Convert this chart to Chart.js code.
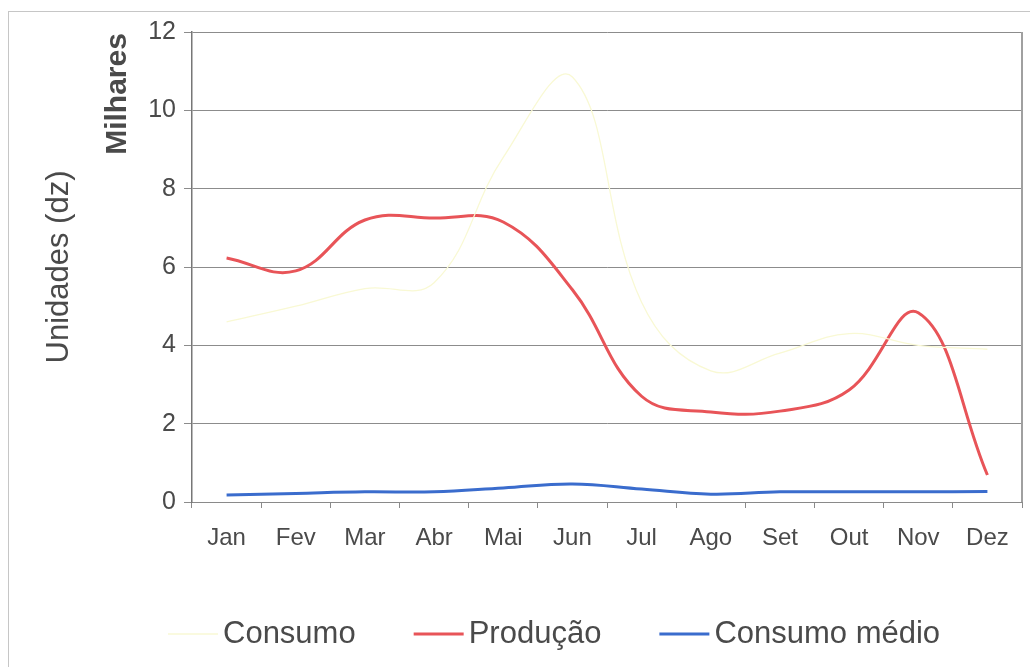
<!DOCTYPE html>
<html lang="pt">
<head>
<meta charset="UTF-8">
<title>Consumo e Produção</title>
<script src="https://cdn.jsdelivr.net/npm/chart.js"></script>
<style>
  * { margin: 0; padding: 0; box-sizing: border-box; }
  body {
    width: 1030px;
    height: 667px;
    overflow: hidden;
    position: relative;
    background: #fff;
  }
  /* moldura do gráfico */
  .moldura {
    position: absolute;
    left: 8px;
    top: 11px;
    width: 1100px;
    height: 700px;
    border: 1px solid #c6c6c6;
  }
  #area {
    position: absolute;
    left: 0;
    top: 0;
    width: 1030px;
    height: 667px;
  }
</style>
</head>
<body>
<div class="moldura"></div>
<div id="area"><canvas id="grafico"></canvas></div>

<script>
  const meses = ['Jan', 'Fev', 'Mar', 'Abr', 'Mai', 'Jun', 'Jul', 'Ago', 'Set', 'Out', 'Nov', 'Dez'];
  // valores em milhares de dúzias
  const consumo = [4.6, 5.0, 5.45, 5.6, 8.8, 10.85, 5.1, 3.35, 3.8, 4.3, 4.0, 3.9];
  const producao = [6.23, 5.9, 7.2, 7.25, 7.15, 5.42, 2.7, 2.3, 2.32, 2.86, 4.83, 0.69];
  const consumoMedio = [0.18, 0.22, 0.26, 0.26, 0.36, 0.46, 0.33, 0.2, 0.26, 0.26, 0.26, 0.27];

  const fonte = '"Liberation Sans", Arial, sans-serif';
  const corTexto = '#4a4a4a';

  // rótulo "Milhares" e borda direita da área de plotagem
  const extras = {
    id: 'extras',
    afterDraw(chart) {
      const ctx = chart.ctx;
      const a = chart.chartArea;
      ctx.save();
      ctx.strokeStyle = '#a0a0a0';
      ctx.lineWidth = 2;
      ctx.beginPath();
      ctx.moveTo(a.right, a.top);
      ctx.lineTo(a.right, a.bottom);
      ctx.stroke();

      ctx.translate(118, 94);
      ctx.rotate(-Math.PI / 2);
      ctx.font = 'bold 30px ' + fonte;
      ctx.fillStyle = corTexto;
      ctx.textAlign = 'center';
      ctx.textBaseline = 'middle';
      ctx.fillText('Milhares', 0, 0);
      ctx.restore();
    }
  };

  // legenda: traço curto seguido do nome da série
  const legenda = {
    id: 'legenda',
    afterDraw(chart) {
      const ctx = chart.ctx;
      const y = 634;
      let x = 168;
      ctx.save();
      ctx.font = '31px ' + fonte;
      ctx.textBaseline = 'middle';
      ctx.textAlign = 'left';
      chart.data.datasets.forEach(ds => {
        ctx.strokeStyle = ds.borderColor;
        ctx.lineWidth = ds.borderWidth;
        ctx.beginPath();
        ctx.moveTo(x, y);
        ctx.lineTo(x + 50, y);
        ctx.stroke();
        x += 55;
        ctx.fillStyle = corTexto;
        ctx.fillText(ds.label, x, y);
        x += ctx.measureText(ds.label).width + 58;
      });
      ctx.restore();
    }
  };

  new Chart(document.getElementById('grafico'), {
    type: 'line',
    data: {
      labels: meses,
      datasets: [
        {
          label: 'Consumo',
          data: consumo,
          borderColor: 'rgb(249,249,212)',
          borderWidth: 1.3
        },
        {
          label: 'Produção',
          data: producao,
          borderColor: 'rgb(232,84,88)',
          borderWidth: 3
        },
        {
          label: 'Consumo médio',
          data: consumoMedio,
          borderColor: 'rgb(58,108,205)',
          borderWidth: 3
        }
      ]
    },
    options: {
      responsive: true,
      maintainAspectRatio: false,
      animation: false,
      layout: { padding: { left: 0, right: 8, top: 32, bottom: 105 } },
      elements: {
        point: { radius: 0 },
        line: { tension: 0.4, fill: false }
      },
      plugins: {
        legend: { display: false },
        tooltip: { enabled: false }
      },
      scales: {
        x: {
          offset: true,
          grid: {
            display: true,
            offset: true,
            drawOnChartArea: false,
            drawTicks: true,
            tickLength: 6,
            color: '#8a8a8a'
          },
          border: { color: '#8a8a8a', width: 1 },
          ticks: {
            font: { size: 24, family: fonte },
            color: corTexto,
            padding: 16,
            maxRotation: 0,
            autoSkip: false
          },
          afterFit(s) { s.height = 60; }
        },
        y: {
          min: 0,
          max: 12,
          ticks: {
            stepSize: 2,
            font: { size: 25, family: fonte },
            color: corTexto,
            padding: 8
          },
          grid: { color: '#8c8c8c', lineWidth: 1, tickLength: 8 },
          border: { color: '#777', width: 1.5 },
          title: {
            display: true,
            text: 'Unidades (dz)',
            font: { size: 31, family: fonte },
            color: corTexto,
            padding: { top: 41, bottom: 0 }
          },
          afterFit(s) { s.width = 192; }
        }
      }
    },
    plugins: [extras, legenda]
  });
</script>
</body>
</html>
